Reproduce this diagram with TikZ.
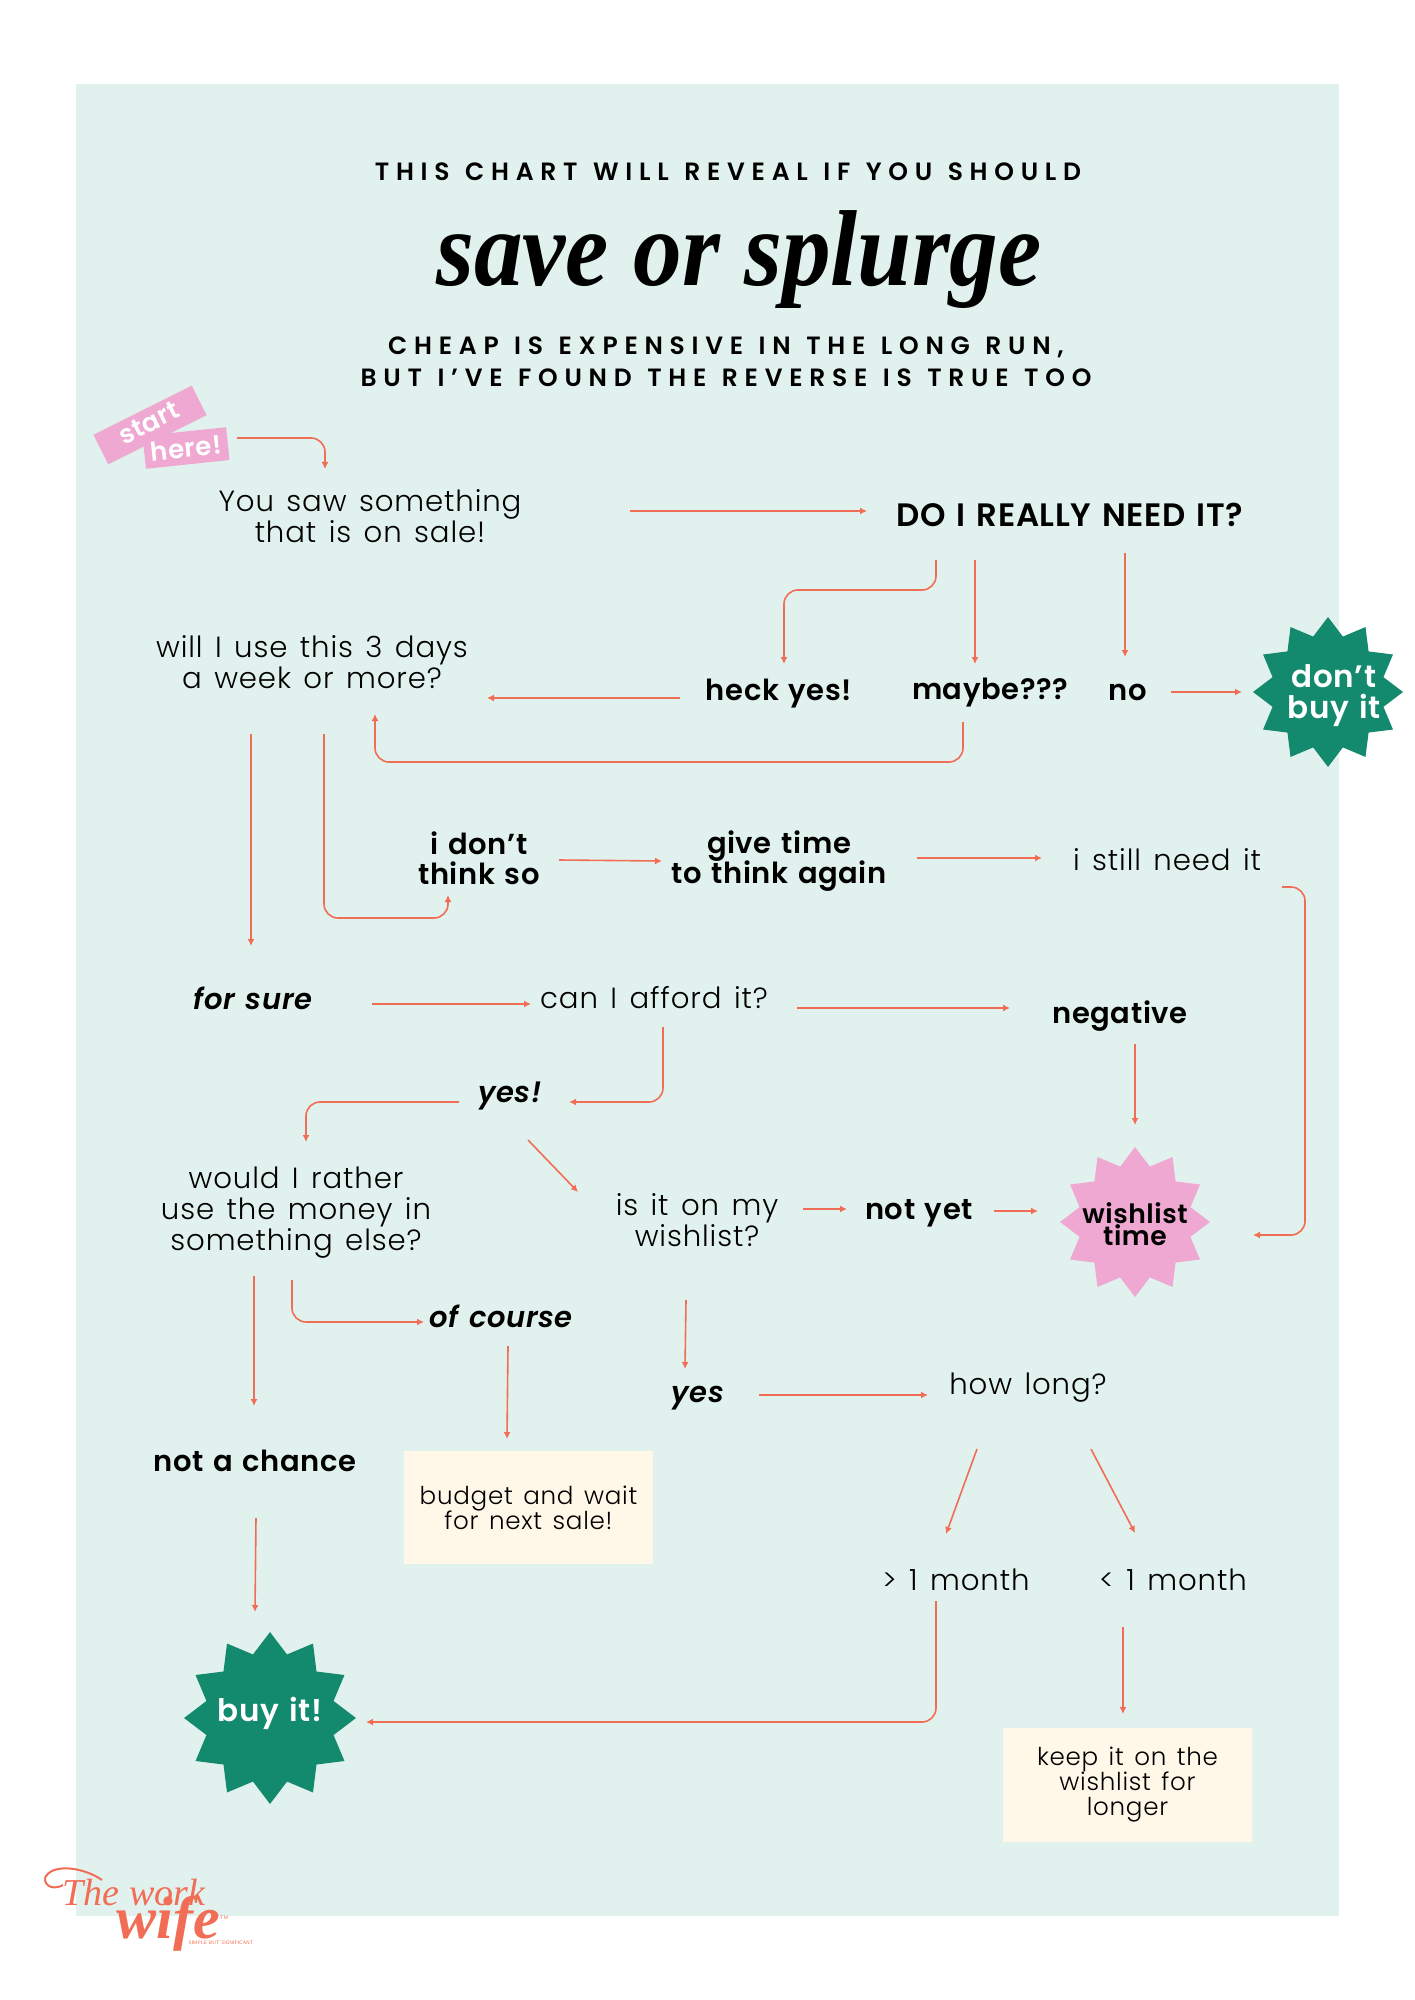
\documentclass[tikz,border=0pt]{standalone}
\usepackage{fontspec}
\usepackage{graphicx}
\usetikzlibrary{arrows.meta}
\setmainfont{Poppins}[UprightFont=* Light,BoldFont=* SemiBold,ItalicFont=* Light Italic,BoldItalicFont=* SemiBold Italic]
\newfontfamily\hdrfont{Poppins}[UprightFont=* SemiBold,LetterSpace=27,WordSpace=1.22]
\newfontfamily\bodyfont{Poppins}[UprightFont=* Light,LetterSpace=3,WordSpace=1.4]
\newfontfamily\boldfont{Poppins}[UprightFont=* SemiBold,ItalicFont=* SemiBold Italic,LetterSpace=2,WordSpace=1.3]
\newfontfamily\titlefont{Liberation Serif}
\newfontfamily\logofont{Liberation Serif}
\definecolor{bgmint}{HTML}{E1F2EE}
\definecolor{burstgreen}{HTML}{138A6E}
\definecolor{softpink}{HTML}{EEA8D2}
\definecolor{cream}{HTML}{FFF7E8}
\definecolor{coral}{HTML}{F26D55}
\newcommand{\burst}[4]{\fill[#4] plot[samples at={0,...,23},variable=\k] ({#1+#3*(1-0.235*mod(\k,2))*cos(15*\k)},{#2+#3*(1-0.235*mod(\k,2))*sin(15*\k)}) -- cycle;}
\tikzset{
 plain/.style={align=center,inner sep=0pt,font=\bodyfont\fontsize{14.6}{15.5}\selectfont},
 strong/.style={align=center,inner sep=0pt,font=\boldfont\fontsize{14.5}{15}\selectfont},
 strongit/.style={align=center,inner sep=0pt,font=\boldfont\itshape\fontsize{14.5}{15}\selectfont},
 note/.style={align=center,inner sep=0pt,fill=cream,font=\bodyfont\fontsize{12.3}{12.5}\selectfont},
 burstlabel/.style={align=center,inner sep=0pt,font=\boldfont\fontsize{15.5}{15.5}\selectfont},
 tag/.style={fill=softpink,text=white,inner sep=0pt,align=center,font=\boldfont\fontsize{13}{13}\selectfont},
 arr/.style={draw=coral,line width=0.8pt,rounded corners=7pt,-{Latex[length=3.5pt,width=3.5pt]}},
}
\begin{document}
\lineskiplimit=-30pt
\begin{tikzpicture}[x=0.5pt,y=-0.5pt]
\useasboundingbox (0,0) rectangle (1414,2000);
\fill[bgmint] (76,84) rectangle (1339,1916);
\node[inner sep=0pt,font=\hdrfont\fontsize{12.5}{12.5}\selectfont] (head) at (728,172) {THIS CHART WILL REVEAL IF YOU SHOULD};
\node[inner sep=0pt,font=\titlefont\bfseries\itshape\fontsize{54}{54}\selectfont] (title) at (739,260) {\scalebox{0.901}[1]{save or splurge}};
\node[inner sep=0pt,align=center,font=\hdrfont\fontsize{12.5}{16}\selectfont] (sub) at (726,362) {CHEAP IS EXPENSIVE IN THE LONG RUN,\\BUT I’VE FOUND THE REVERSE IS TRUE TOO};
\node[tag,minimum width=55pt,minimum height=16.5pt,rotate=26.6] at (150,425) (start) {};
\node[inner sep=0pt,text=white,font=\boldfont\fontsize{13}{13}\selectfont,rotate=26.6] at (149,423) (startlabel) {start};
\node[tag,minimum width=42pt,minimum height=16.5pt,rotate=6] (here) at (186,448) {here!};
\node[plain] (you) at (370,516) {You saw something\\that is on sale!};
\node[strong,font=\boldfont\fontsize{16.2}{15}\selectfont] (need) at (1070,515) {DO I REALLY NEED IT?};
\node[strong] (heck) at (779,694) {heck yes!};
\node[strong] (maybe) at (990,693) {maybe???};
\node[strong] (no) at (1128,692) {no};
\burst{1328}{692}{75}{burstgreen}
\node[burstlabel,text=white] (dont) at (1334,696) {don’t\\buy it};
\node[plain] (will) at (312,662) {will I use this 3 days\\a week or more?};
\node[strong] (idont) at (479,858) {i don’t\\think so};
\node[strong] (give) at (779,861) {give time\\to think again};
\node[plain] (still) at (1167,860) {i still need it};
\node[strongit] (forsure) at (253,998) {for sure};
\node[plain] (can) at (654,998) {can I afford it?};
\node[strong] (neg) at (1120,1016) {negative};
\node[strongit] (yesa) at (510,1096) {yes!};
\node[plain] (would) at (296,1213) {would I rather\\use the money in\\something else?};
\node[plain] (isit) at (697,1220) {is it on my\\wishlist?};
\node[strong] (notyet) at (919,1213) {not yet};
\burst{1135}{1222}{75}{softpink}
\node[burstlabel,font=\boldfont\fontsize{13.3}{11}\selectfont] (wish) at (1135,1224) {wishlist\\time};
\node[strongit] (course) at (501,1316) {of course};
\node[strongit] (yesb) at (698,1398) {yes};
\node[plain] (how) at (1028,1388) {how long?};
\node[strong] (chance) at (255,1461) {not a chance};
\node[note,minimum width=124.5pt,minimum height=56.5pt] (budget) at (528.5,1507.5) {budget and wait\\for next sale!};
\node[plain] (gt) at (956,1580) {> 1 month};
\node[plain] (lt) at (1173,1580) {< 1 month};
\node[note,minimum width=124.5pt,minimum height=57pt] (keep) at (1127.5,1785) {keep it on the\\wishlist for\\longer};
\burst{270}{1718}{86}{burstgreen}
\node[burstlabel,text=white] (buy) at (270,1713) {buy it!};
% connectors
\draw[arr] ([shift={(51,-10)}]here.center) -| ([shift={(-45,-47)}]you.center);
\draw[arr] ([shift={(260,-5)}]you.center) -- ([shift={(-203,-4)}]need.center);
\draw[arr] ([shift={(-134,45)}]need.center) -- ++(0,30) -| ([shift={(5,-30)}]heck.center);
\draw[arr] ([shift={(-95,45)}]need.center) -- ([shift={(-15,-29)}]maybe.center);
\draw[arr] ([shift={(55,38)}]need.center) -- ([shift={(-3,-35)}]no.center);
\draw[arr] ([shift={(43,0)}]no.center) -- ([shift={(-92,-4)}]dont.center);
\draw[arr] ([shift={(-99,4)}]heck.center) -- ([shift={(175,36)}]will.center);
\draw[arr] ([shift={(-27,29)}]maybe.center) -- ++(0,40) -| ([shift={(63,52)}]will.center);
\draw[arr] ([shift={(-61,72)}]will.center) -- ([shift={(-2,-52)}]forsure.center);
\draw[arr] ([shift={(12,72)}]will.center) -- ++(0,184) -| ([shift={(-31,37)}]idont.center);
\draw[arr] ([shift={(80,2)}]idont.center) -- ([shift={(-117,0)}]give.center);
\draw[arr] ([shift={(138,-3)}]give.center) -- ([shift={(-125,-2)}]still.center);
\draw[arr] ([shift={(115,27)}]still.center) -- ++(23,0) |- ([shift={(118,11)}]wish.center);
\draw[arr] ([shift={(119,6)}]forsure.center) -- ([shift={(-123,6)}]can.center);
\draw[arr] ([shift={(143,10)}]can.center) -- ([shift={(-110,-8)}]neg.center);
\draw[arr] ([shift={(15,28)}]neg.center) -- ([shift={(0,-99)}]wish.center);
\draw[arr] ([shift={(9,29)}]can.center) |- ([shift={(59,6)}]yesa.center);
\draw[arr] ([shift={(-51,6)}]yesa.center) -| ([shift={(10,-71)}]would.center);
\draw[arr] ([shift={(18,44)}]yesa.center) -- ([shift={(-119,-28)}]isit.center);
\draw[arr] ([shift={(106,-11)}]isit.center) -- ([shift={(-72,-4)}]notyet.center);
\draw[arr] ([shift={(75,-2)}]notyet.center) -- ([shift={(-97,-13)}]wish.center);
\draw[arr] ([shift={(-11,80)}]isit.center) -- ([shift={(-13,-29)}]yesb.center);
\draw[arr] ([shift={(-42,63)}]would.center) -- ([shift={(-1,-55)}]chance.center);
\draw[arr] ([shift={(-4,67)}]would.center) |- ([shift={(-77,6)}]course.center);
\draw[arr] ([shift={(7,30)}]course.center) -- ([shift={(-21.5,-68.5)}]budget.center);
\draw[arr] ([shift={(61,-3)}]yesb.center) -- ([shift={(-100,7)}]how.center);
\draw[arr] ([shift={(-51,61)}]how.center) -- ([shift={(-10,-46)}]gt.center);
\draw[arr] ([shift={(63,61)}]how.center) -- ([shift={(-38,-47)}]lt.center);
\draw[arr] ([shift={(1,57)}]chance.center) -- ([shift={(-15,-101)}]buy.center);
\draw[arr] ([shift={(-20,21)}]gt.center) |- ([shift={(96,9)}]buy.center);
\draw[arr] ([shift={(-50,47)}]lt.center) -- ([shift={(-4.5,-71)}]keep.center);
% logo
\draw[coral,line width=1pt] (63,1885) .. controls (50,1892) and (42,1882) .. (46,1876) .. controls (55,1863) and (85,1868) .. (102,1880);
\node[inner sep=0pt,text=coral,font=\logofont\itshape\fontsize{19}{19}\selectfont] (logotop) at (134,1892) {The work};
\node[inner sep=0pt,text=coral,font=\logofont\bfseries\itshape\fontsize{30}{30}\selectfont] (logowife) at (168,1924) {wife};
\node[inner sep=0pt,text=coral,font=\sffamily\fontsize{2.5}{3}\selectfont] (logotag) at (221,1943) {SIMPLE BUT SIGNIFICANT};
\node[inner sep=0pt,text=coral,font=\sffamily\fontsize{2.5}{3}\selectfont] (logotm) at (224,1918) {TM};
\end{tikzpicture}
\end{document}
